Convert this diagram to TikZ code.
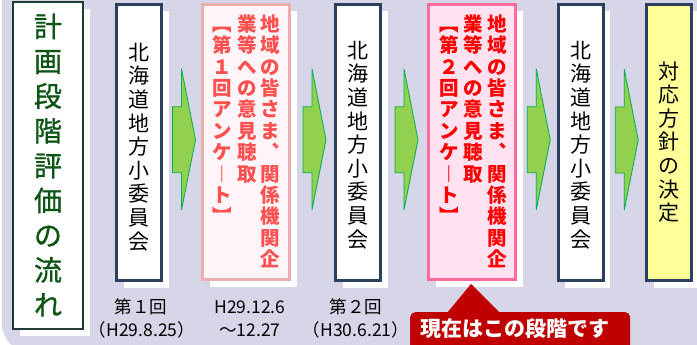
\documentclass[tikz,border=0pt]{standalone}
\usepackage{fontspec}
\newfontfamily\jp{Noto Sans CJK JP}
\newfontfamily\jptitle[FakeBold=0.9]{Noto Sans CJK JP}
\usetikzlibrary{calc,shadows}
\definecolor{bgc}{RGB}{214,214,232}
\definecolor{navy}{RGB}{43,63,96}
\definecolor{tborder}{RGB}{30,60,50}
\definecolor{tgreen}{RGB}{12,85,20}
\definecolor{arrfill}{RGB}{146,208,80}
\definecolor{arrdraw}{RGB}{0,176,80}
\definecolor{pinkAb}{RGB}{232,176,176}
\definecolor{pinkAf}{RGB}{255,244,248}
\definecolor{redA}{RGB}{255,80,80}
\definecolor{pinkBb}{RGB}{255,108,156}
\definecolor{pinkBf}{RGB}{255,225,240}
\definecolor{redB}{RGB}{255,0,0}
\definecolor{yel}{RGB}{255,255,153}
\definecolor{cred}{RGB}{192,0,0}
\begin{document}
\begin{tikzpicture}[x=1pt,y=-1pt,
  shad/.style={drop shadow={shadow xshift=7pt,shadow yshift=-7pt,fill=white,opacity=1}},
  titlebox/.style={draw=tborder,line width=2pt,fill=white,minimum width=70pt,minimum height=327pt,inner sep=0pt,shad},
  cbox/.style={draw=navy,line width=3pt,fill=white,minimum width=45pt,minimum height=276pt,inner sep=0pt,shad},
  abox/.style={draw=pinkAb,line width=3pt,fill=pinkAf,minimum width=87pt,minimum height=275pt,inner sep=0pt,shad},
  bbox/.style={draw=pinkBb,line width=3pt,fill=pinkBf,minimum width=87pt,minimum height=275pt,inner sep=0pt,shad},
  titletext/.style={font=\jptitle\fontsize{28pt}{34.8pt}\selectfont,align=center,inner sep=0pt},
  vtext/.style={font=\jp\fontsize{21pt}{23.6pt}\selectfont,align=center,inner sep=0pt},
  redcol/.style={font=\jp\bfseries\fontsize{19.5pt}{21.4pt}\selectfont,align=center,inner sep=0pt,anchor=north},
  lab/.style={font=\jp\fontsize{17.5pt}{17.5pt}\selectfont,inner sep=0pt},
  arrowline/.style={fill=arrfill,draw=arrdraw,line width=0.8pt,line join=miter},
  blockarr/.pic={\draw[arrowline] (-11,-35.5)--(-2,-35.5)--(-2,-73.5)--(12,-2.5)--(-2,67.5)--(-2,30.5)--(-11,30.5)--cycle;}
]
\useasboundingbox (0,0) rectangle (697,345);
\fill[bgc,rounded corners=28pt] (2,-40) rectangle (740,352);

% title
\node[titlebox] (title) at (48,165.5) {};
\node[titletext,text=tgreen] (ttext) at (48,165) {計\\画\\段\\階\\評\\価\\の\\流\\れ};

% boxes
\node[cbox] (b1) at (139,142.5) {};
\node[abox] (b2) at (246,142) {};
\node[cbox] (b3) at (358,142.5) {};
\node[bbox] (b4) at (472,142) {};
\node[cbox] (b5) at (580.5,142.5) {};
\node[cbox,fill=yel] (b6) at (669,142.5) {};

% texts
\node[vtext] (t1) at (b1|-0,147) {北\\海\\道\\地\\方\\小\\委\\員\\会};
\node[vtext] (t3) at (b3|-0,145) {北\\海\\道\\地\\方\\小\\委\\員\\会};
\node[vtext] (t5) at (b5|-0,145) {北\\海\\道\\地\\方\\小\\委\\員\\会};
\node[vtext] (t6) at (b6|-0,142) {対\\応\\方\\針\\の\\決\\定};

\node[redcol,text=redA] (a1) at (270,13) {\rule{0pt}{18pt}地\\域\\の\\皆\\さ\\ま\\︑\\関\\係\\機\\関\\企};
\node[redcol,text=redA] (a2) at (247,13) {\rule{0pt}{18pt}業\\等\\へ\\の\\意\\見\\聴\\取};
\node[redcol,text=redA] (a3) at (222,13) {\rule{0pt}{18pt}︻\\第\\１\\回\\ア\\ン\\ケ\\︱\\ト\\︼};

\node[redcol,text=redB] (c1) at (497,13) {\rule{0pt}{18pt}地\\域\\の\\皆\\さ\\ま\\︑\\関\\係\\機\\関\\企};
\node[redcol,text=redB] (c2) at (473,13) {\rule{0pt}{18pt}業\\等\\へ\\の\\意\\見\\聴\\取};
\node[redcol,text=redB] (c3) at (449,13) {\rule{0pt}{18pt}︻\\第\\２\\回\\ア\\ン\\ケ\\︱\\ト\\︼};

% arrows
\pic at ($(b1.east)!0.5!(b2.west)+(1.5,0)$) {blockarr};
\pic at ($(b2.east)!0.5!(b3.west)+(1.5,0)$) {blockarr};
\pic at ($(b3.east)!0.5!(b4.west)+(1.5,0)$) {blockarr};
\pic at ($(b4.east)!0.5!(b5.west)+(1.5,0)$) {blockarr};
\pic at ($(b5.east)!0.5!(b6.west)+(1.5,0)$) {blockarr};

% labels
\node[lab] (l1a) at (141,307) {第１回};
\node[lab] (l1b) at (142,330) {（H29.8.25）};
\node[lab] (l2a) at (250,307) {H29.12.6};
\node[lab] (l2b) at (250,330) {～12.27};
\node[lab] (l3a) at (356,307) {第２回};
\node[lab] (l3b) at (356,330) {（H30.6.21）};

% callout
\node[fill=cred,rounded corners=5pt,minimum width=220pt,minimum height=50pt,anchor=north west,inner sep=0pt] (now) at (410,312) {};
\fill[cred] ($(now.north west)+(37,1)$) -- ($(now.north west)+(61,-28)$) -- ($(now.north west)+(90,1)$) -- cycle;
\node[font=\jp\bfseries\fontsize{21pt}{21pt}\selectfont,text=white,inner sep=0pt] (nowtext) at (515,329) {現在はこの段階です};
\end{tikzpicture}
\end{document}
